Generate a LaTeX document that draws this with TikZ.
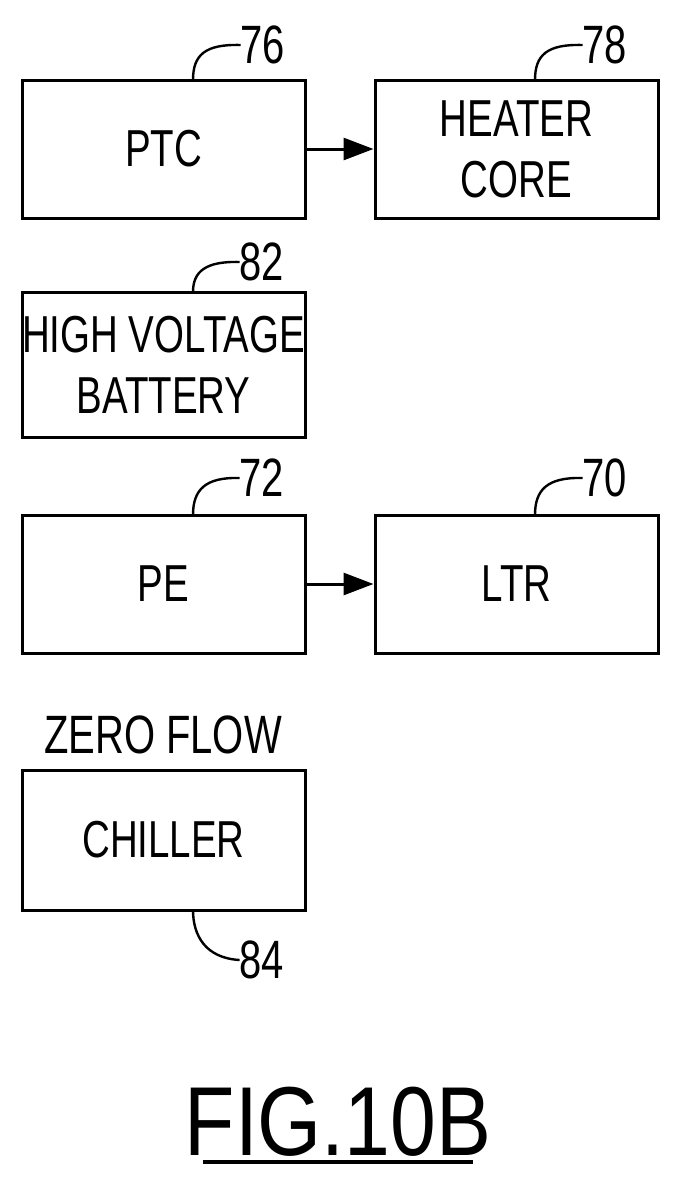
\documentclass[tikz,border=0pt]{standalone}
\usepackage{fontspec}
\setmainfont{Liberation Sans}
\usetikzlibrary{arrows.meta}
\newcommand{\nt}[1]{\scalebox{0.74}[1]{#1}}
\begin{document}
\begin{tikzpicture}[x=1pt,y=-1pt,
  box/.style={draw,line width=3pt,minimum width=283pt,inner sep=0pt,font=\fontsize{52}{61}\selectfont,align=center},
  lead/.style={line width=2.4pt},
  num/.style={font=\fontsize{54}{54}\selectfont,inner sep=0pt},
  arr/.style={line width=3pt,-{Triangle[length=30pt,width=22pt]}}]
\useasboundingbox (0,0) rectangle (681,1184);
\node[box,minimum height=138pt] (ptc) at (163.5,149) {\nt{PTC}};
\node[box,minimum height=138pt] (hc) at (516.5,149) {\nt{HEATER}\\\nt{CORE}};
\node[box,minimum height=145pt] (hv) at (163.5,364.5) {\nt{HIGH VOLTAGE}\\\nt{BATTERY}};
\node[box,minimum height=138pt] (pe) at (163.5,584) {\nt{PE}};
\node[box,minimum height=138pt] (ltr) at (516.5,584) {\nt{LTR}};
\node[box,minimum height=140pt] (ch) at (163.5,840) {\nt{CHILLER}};
\node[num] (zf) at (163,735) {\nt{ZERO FLOW}};
\draw[arr] (ptc.east) -- (hc.west);
\draw[arr] (pe.east) -- (ltr.west);
\node[num] (n76) at (263,45) {\nt{76}};
\node[num] (n78) at (605,45) {\nt{78}};
\node[num] (n82) at (262,262) {\nt{82}};
\node[num] (n72) at (262,478) {\nt{72}};
\node[num] (n70) at (605,478) {\nt{70}};
\node[num] (n84) at (262,960) {\nt{84}};
\draw[lead] (193,80) .. controls (193,55) and (205,44) .. (n76.west);
\draw[lead] (535,80) .. controls (535,55) and (547,44) .. (n78.west);
\draw[lead] (193,292) .. controls (193,272) and (205,261) .. (n82.west);
\draw[lead] (193,515) .. controls (193,490) and (205,477) .. (n72.west);
\draw[lead] (535,515) .. controls (535,490) and (547,477) .. (n70.west);
\draw[lead] (193,910) .. controls (193,935) and (205,958) .. (n84.west);
\node[font=\fontsize{98}{98}\selectfont,inner sep=0pt] (fig) at (338,1122) {\scalebox{0.84}[1]{FIG.10B}};
\draw[line width=4pt] (203,1162) -- (473,1162);
\end{tikzpicture}
\end{document}
